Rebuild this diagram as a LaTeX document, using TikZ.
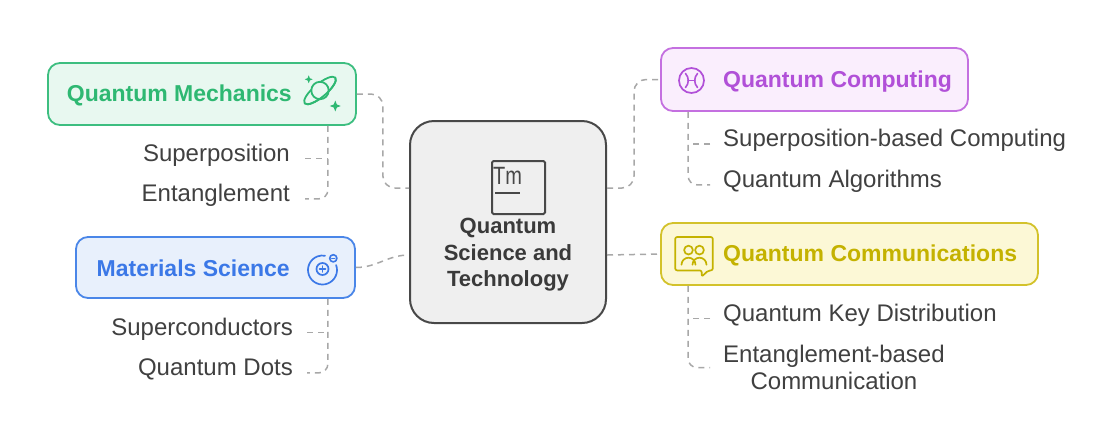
\documentclass[tikz,border=0pt]{standalone}
\usepackage{fontspec}
\setmainfont{Liberation Sans}
\definecolor{qmline}{HTML}{3DBE80}
\definecolor{qmfill}{HTML}{E8F8F0}
\definecolor{qmtext}{HTML}{2EB872}
\definecolor{qcline}{HTML}{C470E0}
\definecolor{qcfill}{HTML}{FAEEFD}
\definecolor{qctext}{HTML}{B150D8}
\definecolor{qcmline}{HTML}{D3C22B}
\definecolor{qcmfill}{HTML}{FCF8D6}
\definecolor{qcmtext}{HTML}{C4B200}
\definecolor{msline}{HTML}{4A86E8}
\definecolor{msfill}{HTML}{E8F0FC}
\definecolor{mstext}{HTML}{3B78E7}
\definecolor{ctrline}{HTML}{484848}
\definecolor{ctrfill}{HTML}{EFEFEF}
\definecolor{ctrtext}{HTML}{3A3A3A}
\definecolor{childtext}{HTML}{404040}
\definecolor{connc}{HTML}{A8A8A8}
\tikzset{
  box/.style={rounded corners=12pt, line width=1.8pt, inner sep=0pt},
  conn/.style={draw=connc, line width=1.5pt, dash pattern=on 6pt off 5pt},
  head/.style={font=\fontsize{23}{28}\selectfont\bfseries, inner sep=0pt},
  child/.style={font=\fontsize{24}{27}\selectfont, text=childtext, inner sep=0pt},
  icon/.style={line width=1.8pt, line cap=round, line join=round},
  sparkle/.pic={\fill[rounded corners=0.15pt] (0,-1) -- (0.28,-0.28) -- (1,0) -- (0.28,0.28) -- (0,1) -- (-0.28,0.28) -- (-1,0) -- (-0.28,-0.28) -- cycle;}
}
\begin{document}
\begin{tikzpicture}[x=1pt,y=-1pt]
\useasboundingbox (0,0) rectangle (1109,424);
\fill[white] (0,0) rectangle (1109,424);

% boxes
\node[box, draw=qmline, fill=qmfill, minimum width=308pt, minimum height=62pt] (qm) at (202,94) {};
\node[box, draw=msline, fill=msfill, minimum width=279pt, minimum height=61pt] (ms) at (215.5,267.5) {};
\node[box, draw=qcline, fill=qcfill, minimum width=307pt, minimum height=63pt] (qc) at (814.5,79.5) {};
\node[box, draw=qcmline, fill=qcmfill, minimum width=377pt, minimum height=62pt] (qcm) at (849.5,254) {};
\node[box, rounded corners=24pt, line width=2pt, draw=ctrline, fill=ctrfill, minimum width=196pt, minimum height=202pt] (ctr) at (508,222) {};

% headings
\node[head, text=qmtext, anchor=base east] (qmt) at (292,101.5) {Quantum Mechanics};
\node[head, text=mstext, anchor=base east] (mst) at (290,276.5) {Materials Science};
\node[head, text=qctext, anchor=base west] (qct) at (723,87) {Quantum Computing};
\node[head, text=qcmtext, anchor=base west] (qcmt) at (723,261.5) {Quantum Communications};
\node[font=\fontsize{22}{26.5}\selectfont\bfseries, text=ctrtext, align=center, inner sep=0pt] (ctrt) at (508,255) {Quantum\\Science and\\Technology};

% children
\node[child, anchor=base east] (sp) at (290,161) {Superposition};
\node[child, anchor=base east] (ent) at (290,201.5) {Entanglement};
\node[child, anchor=base east] (sup) at (293,335) {Superconductors};
\node[child, anchor=base east] (qd) at (293,375.5) {Quantum Dots};
\node[child, anchor=base west] (sbc) at (723,146.5) {Superposition-based Computing};
\node[child, anchor=base west] (qa) at (723,187.5) {Quantum Algorithms};
\node[child, anchor=base west] (qkd) at (723,321) {Quantum Key Distribution};
\node[child, anchor=west, align=center] (ebc) at (723,367.6) {Entanglement-based\\Communication};

% anchor coordinates
\coordinate (cl1) at ([yshift=34pt]ctr.west);
\coordinate (cl2) at ([yshift=-33pt]ctr.west);
\coordinate (cr1) at ([yshift=34pt]ctr.east);
\coordinate (cr2) at ([yshift=-33pt]ctr.east);
\coordinate (qmv) at ([xshift=-29pt]qm.south east);
\coordinate (msv) at ([xshift=-28pt]ms.south east);
\coordinate (qcv) at ([xshift=28pt]qc.south west);
\coordinate (qcmv) at ([xshift=28pt]qcm.south west);

% main connectors
\draw[conn, rounded corners=12pt] (qm.east) -- ++(26,0) |- (cl1);
\draw[conn] (ms.east) to[out=0, in=180] (cl2);
\draw[conn, rounded corners=12pt] (cr1) -- ++(27,0) |- (qc.west);
\draw[conn] (cr2) -- (qcm.west);

% child connectors
\draw[conn, rounded corners=9pt] (qmv) |- ([xshift=15pt]ent.mid east);
\draw[conn] ([xshift=15pt]sp.mid east) -- (sp.mid east -| qmv);
\draw[conn, rounded corners=9pt] (msv) |- ([xshift=14pt]qd.mid east);
\draw[conn] ([xshift=14pt]sup.mid east) -- (sup.mid east -| msv);
\draw[conn, rounded corners=9pt] (qcv) |- ([xshift=-13pt]qa.mid west);
\draw[conn] ([xshift=-13pt]sbc.mid west) -- (sbc.mid west -| qcv);
\draw[conn, rounded corners=9pt] (qcmv) |- ([xshift=-13pt]ebc.west);
\draw[conn] ([xshift=-13pt]qkd.mid west) -- (qkd.mid west -| qcmv);

% center icon
\draw[line width=2pt, draw=ctrline, rounded corners=1.5pt] (492,161) rectangle (545,214);
\node[font=\fontsize{25}{25}\selectfont, text=ctrline, inner sep=0pt, xscale=0.8, transform shape] (tm) at (507.5,176) {Tm};
\draw[line width=2pt, draw=ctrline] (495,193) -- (520,193);

% planet icon (inner coordinates: y up)
\begin{scope}[shift={(320,90.5)}, yscale=-1]
  \begin{scope}[rotate=-40]
    \draw[icon, draw=qmtext] (0,0) ellipse [x radius=20pt, y radius=6.5pt];
  \end{scope}
  \draw[icon, draw=qmtext, fill=qmfill] (0,0) circle (8.7pt);
  \begin{scope}[rotate=-40]
    \draw[icon, draw=qmtext] (-20,0) arc[start angle=180, end angle=360, x radius=20, y radius=6.5];
  \end{scope}
  \pic[scale=4, fill=qmtext] at (-11.3,11.2) {sparkle};
  \pic[scale=5.5, fill=qmtext] at (15.3,-15.5) {sparkle};
\end{scope}

% materials icon
\begin{scope}[shift={(322.5,270)}, draw=mstext]
  \draw[icon, line width=1.7pt] (-20:14.5) arc[start angle=-20, end angle=280, radius=14.5];
  \draw[icon, line width=1.6pt] (10.8,-11.7) circle (3.6pt);
  \draw[icon, line width=1.4pt] (9.3,-11.7) -- (12.3,-11.7);
  \draw[icon, line width=1.7pt] (0,-1) circle (6pt);
  \draw[icon, line width=1.5pt] (-3,-1) -- (3,-1) (0,-4) -- (0,2);
\end{scope}

% computing icon
\begin{scope}[shift={(691.5,80.5)}, draw=qctext]
  \draw[icon, line width=1.7pt] (0,0) circle (12.5pt);
  \draw[icon, line width=1.6pt] (-6,-7) .. controls (-2.3,-3) and (-2.3,3) .. (-6,7);
  \draw[icon, line width=1.6pt] (6,-7) .. controls (2.3,-3) and (2.3,3) .. (6,7);
  \draw[icon, line width=1.6pt] (-3.5,0) -- (3.5,0);
\end{scope}

% communications icon
\begin{scope}[shift={(694,253.7)}, draw=qcmtext]
  \draw[icon, line width=1.7pt, rounded corners=2pt] (7.7,16.7) -- (-18.8,16.7) -- (-18.8,-16.7) -- (18.8,-16.7) -- (18.8,16.7) -- (14.3,16.7) -- (7.7,23) -- cycle;
  \draw[icon, line width=1.7pt] (-5.5,-3.6) circle (4.4pt);
  \draw[icon, line width=1.7pt] (5.5,-3.6) circle (4.4pt);
  \draw[icon, line width=1.7pt] (-12.5,11) arc[start angle=180, end angle=360, radius=7];
  \draw[icon, line width=1.7pt] (-1.5,11) arc[start angle=180, end angle=360, radius=7];
\end{scope}
\end{tikzpicture}
\end{document}
